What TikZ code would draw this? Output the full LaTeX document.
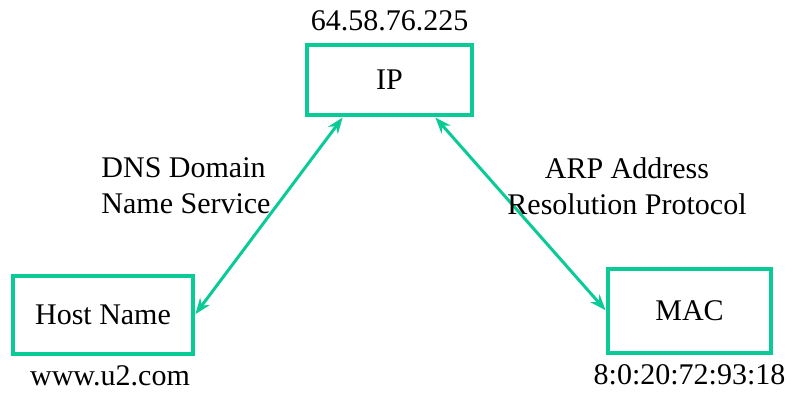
\documentclass[tikz,border=0pt]{standalone}
\usepackage{fontspec}
\setmainfont{Liberation Serif}
\usetikzlibrary{arrows.meta,positioning,calc}
\definecolor{netgreen}{RGB}{10,202,150}
\tikzset{
  box/.style={draw=netgreen, line width=3.5pt, align=center, inner sep=0pt},
  addr/.style={inner sep=0pt, font=\fontsize{30}{36}\selectfont},
  proto/.style={align=center, inner sep=0pt, font=\fontsize{30}{36}\selectfont},
  arrow/.style={{Stealth[length=16pt,width=12pt]}-{Stealth[length=16pt,width=12pt]}, netgreen, line width=3pt, shorten <=1pt, shorten >=1pt},
}
\begin{document}
\begin{tikzpicture}[x=1pt, y=-1pt, font=\fontsize{30}{36}\selectfont]
  \useasboundingbox (0,0) rectangle (792,392);
  % address nodes
  \node[box, minimum width=165pt, minimum height=70pt] (ip) at (389.5,80) {IP};
  \node[box, minimum width=180pt, minimum height=78pt] (host) at (103,315) {Host Name};
  \node[box, minimum width=163pt, minimum height=84pt] (mac) at (689.5,311) {MAC};
  % example addresses
  \node[addr, above=12pt of ip] (ipaddr) {64.58.76.225};
  \node[addr, below=10pt of host, xshift=7pt] (hostaddr) {www.u2.com};
  \node[addr, below=10pt of mac] (macaddr) {8:0:20:72:93:18};
  % mappings
  \draw[arrow] (host.east) -- ([xshift=38pt]ip.south west);
  \draw[arrow] (mac.west) -- ([xshift=-39pt]ip.south east);
  \node[proto, align=left] (dns) at (186,186) {DNS Domain\\Name Service};
  \node[proto] (arp) at (627,186) {ARP Address\\Resolution Protocol};
\end{tikzpicture}
\end{document}
